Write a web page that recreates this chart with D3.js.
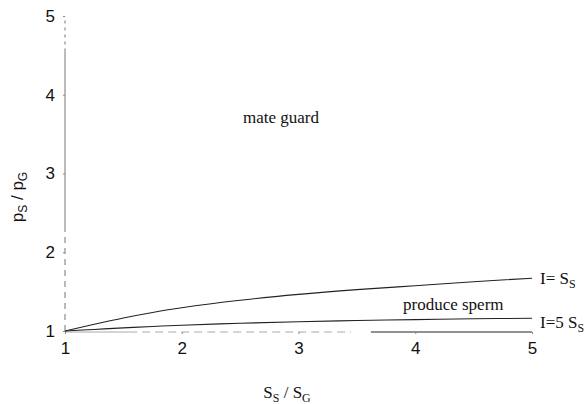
<!DOCTYPE html>
<html><head><meta charset="utf-8">
<script src="https://cdn.jsdelivr.net/npm/d3@7"></script>
<style>body{margin:0;background:#fff}svg{display:block}</style>
</head><body>
<script>
const xTicks = [1, 2, 3, 4, 5];
const yTicks = [1, 2, 3, 4, 5];
const ssOverSg = [1, 1.25, 1.5, 1.75, 2, 2.5, 3, 3.5, 4, 4.5, 5];
const curveIeqSs  = [1, 1.085, 1.165, 1.235, 1.295, 1.39, 1.465, 1.525, 1.575, 1.625, 1.67];
const curveIeq5Ss = [1, 1.02, 1.04, 1.058, 1.073, 1.098, 1.118, 1.133, 1.145, 1.155, 1.162];

const W = 587, H = 404;
const svg = d3.select("body").append("svg").attr("width", W).attr("height", H);
const x = d3.scaleLinear().domain([1, 5]).range([65, 532]);
const y = d3.scaleLinear().domain([1, 5]).range([331, 16]);

// y axis line (scanned look: dashed / solid parts)
const yAxisParts = [[4.55, 5, "3,4"], [2.3, 4.55, null], [1, 2.3, "6,5"]];
yAxisParts.forEach(([a, b, d]) => {
  svg.append("line").attr("x1", x(1)).attr("x2", x(1)).attr("y1", y(a)).attr("y2", y(b))
    .attr("stroke", "#777").attr("stroke-width", 1).attr("stroke-dasharray", d);
});
// x axis line
const xAxisParts = [[1, 1.55, null, "#aaa"], [1.55, 3.45, "8,5", "#aaa"], [3.62, 5, null, "#222"]];
xAxisParts.forEach(([a, b, d, c]) => {
  svg.append("line").attr("x1", x(a)).attr("x2", x(b)).attr("y1", y(1) + 1).attr("y2", y(1) + 1)
    .attr("stroke", c).attr("stroke-width", 1).attr("stroke-dasharray", d);
});

const gx = svg.append("g").attr("transform", `translate(0,${y(1) + 1})`)
  .call(d3.axisBottom(x).tickValues(xTicks).tickFormat(d3.format("d")).tickSize(2).tickPadding(8));
const gy = svg.append("g").attr("transform", `translate(${x(1)},0)`)
  .call(d3.axisLeft(y).tickValues(yTicks).tickFormat(d3.format("d")).tickSize(2).tickPadding(8));
[gx, gy].forEach(g => {
  g.select(".domain").remove();
  g.selectAll(".tick line").attr("stroke", "#888");
  g.selectAll("text").attr("font-family", "Liberation Sans, Arial, sans-serif")
    .attr("font-size", 17).attr("fill", "#111");
});

const line = d3.line().x((d, i) => x(ssOverSg[i])).y(d => y(d)).curve(d3.curveCatmullRom);
[curveIeqSs, curveIeq5Ss].forEach(s => {
  svg.append("path").datum(s).attr("d", line).attr("fill", "none")
    .attr("stroke", "#222").attr("stroke-width", 1.1);
});

const serif = "Liberation Serif, Times New Roman, serif";
function label(tx, ty, parts, size) {
  const t = svg.append("text").attr("x", tx).attr("y", ty)
    .attr("font-family", serif).attr("font-size", size).attr("fill", "#111");
  parts.forEach(p => {
    const ts = t.append("tspan").text(p[0]);
    if (p[1]) ts.attr("font-size", size * 0.7).attr("dy", 4);
    else if (p[2]) ts.attr("dy", -4);
  });
  return t;
}
label(243, 123, [["mate guard"]], 17);
label(403, 310, [["produce sperm"]], 17);
label(540, 284, [["I= S"], ["S", true]], 17);
label(540, 328, [["I=5 S"], ["S", true]], 17);

// x axis title
label(287, 398, [["S"], ["S", true], [" / S", false, true], ["G", true]], 17).attr("text-anchor", "middle");

// y axis title (rotated, sans)
const yt = svg.append("text").attr("transform", "translate(23,197) rotate(-90)")
  .attr("text-anchor", "middle").attr("font-family", "Liberation Sans, Arial, sans-serif")
  .attr("font-size", 17).attr("fill", "#111");
yt.append("tspan").text("p");
yt.append("tspan").text("S").attr("font-size", 12).attr("dy", 4);
yt.append("tspan").text(" / p").attr("dy", -4);
yt.append("tspan").text("G").attr("font-size", 12).attr("dy", 4);
</script>
</body></html>
